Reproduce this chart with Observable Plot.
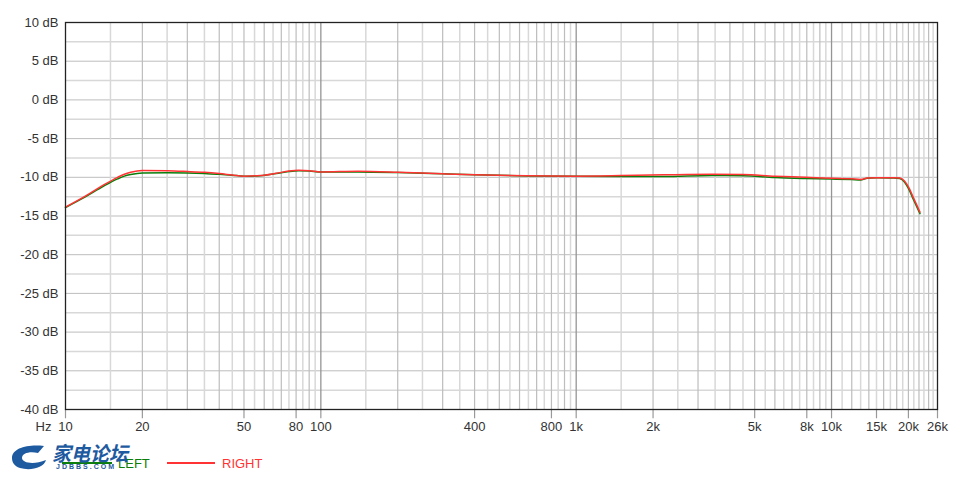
<!DOCTYPE html>
<html>
<head>
<meta charset="utf-8">
<script src="https://cdn.jsdelivr.net/npm/d3@7"></script>
<script src="https://cdn.jsdelivr.net/npm/@observablehq/plot@0.6"></script>
<style>
  html, body { margin: 0; padding: 0; background: #fff; }
  body { width: 960px; height: 480px; position: relative; overflow: hidden; font-family: "Liberation Sans", Arial, sans-serif; }
  #legend { position: absolute; left: 0; top: 436px; width: 960px; height: 44px; }
</style>
</head>
<body>
<div id="chart"></div>
<div id="legend"></div>
<script>
// Frequencies (Hz) sampled along the curves
const freqs = [10, 12, 14, 16, 17, 18, 20, 25, 30, 35, 40, 45, 50, 58, 67, 75, 82, 90, 100, 140, 200, 300, 400, 640, 1000, 1500, 2200, 3400, 4500, 6000, 7900, 10000, 12000, 13000, 13800, 15000, 17500, 18500, 19300, 20000, 21000, 22200];
// LEFT channel level (dB)
const leftDb = [-13.9, -12.5, -11.2, -10.2, -9.85, -9.65, -9.45, -9.42, -9.45, -9.52, -9.6, -9.72, -9.86, -9.8, -9.5, -9.25, -9.15, -9.2, -9.32, -9.3, -9.38, -9.55, -9.68, -9.82, -9.88, -9.9, -9.9, -9.77, -9.8, -10.03, -10.15, -10.22, -10.3, -10.35, -10.12, -10.07, -10.08, -10.15, -10.6, -11.45, -13.0, -14.7];
// RIGHT channel level (dB)
const rightDb = [-13.85, -12.4, -11.05, -10.0, -9.6, -9.35, -9.12, -9.15, -9.25, -9.36, -9.52, -9.7, -9.85, -9.78, -9.48, -9.2, -9.1, -9.15, -9.3, -9.22, -9.34, -9.55, -9.67, -9.8, -9.85, -9.78, -9.68, -9.6, -9.64, -9.86, -10.0, -10.13, -10.2, -10.27, -10.1, -10.05, -10.05, -10.1, -10.48, -11.25, -12.75, -14.5];

// Axis ticks
const xTicks = [10, 20, 50, 80, 100, 400, 800, 1000, 2000, 5000, 8000, 10000, 15000, 20000, 26000];
const xTickLabels = ["10", "20", "50", "80", "100", "400", "800", "1k", "2k", "5k", "8k", "10k", "15k", "20k", "26k"];
const yTicks = [-40, -35, -30, -25, -20, -15, -10, -5, 0, 5, 10];
const yMinor = [-37.5, -32.5, -27.5, -22.5, -17.5, -12.5, -7.5, -2.5, 2.5, 7.5];

// Vertical grid positions
const gridDecade = [100, 1000, 10000];
const gridMedium = [];
const gridLight = [];
for (const d of [10, 100, 1000]) {
  for (let k = 1; k < 10; k++) {
    const v = d * k;
    if (k > 1) gridMedium.push(v);
    gridLight.push(v + d / 2);
  }
}
for (let v = 11000; v <= 25000; v += 1000) {
  if (v % 2000 === 0) gridMedium.push(v); else gridLight.push(v);
}

const left = freqs.map((f, i) => ({f, db: leftDb[i]}));
const right = freqs.map((f, i) => ({f, db: rightDb[i]}));
const xLabelData = xTicks.map((t, i) => ({t, label: xTickLabels[i]}));

const plot = Plot.plot({
  width: 960,
  height: 445,
  marginLeft: 65,
  marginRight: 23,
  marginTop: 22,
  marginBottom: 36,
  style: {fontFamily: "'Liberation Sans', Arial, sans-serif", fontSize: "13px", color: "#333", background: "#fff"},
  x: {type: "log", domain: [10, 26000], axis: null},
  y: {domain: [-40, 10], axis: null},
  marks: [
    Plot.ruleY(yMinor, {stroke: "#d8d8d8", strokeWidth: 1.5}),
    Plot.ruleY(yTicks, {stroke: "#bdbdbd", strokeWidth: 1}),
    Plot.ruleX(gridLight, {stroke: "#d8d8d8", strokeWidth: 1.5}),
    Plot.ruleX(gridMedium, {stroke: "#bdbdbd", strokeWidth: 1.2}),
    Plot.ruleX(gridDecade, {stroke: "#959595", strokeWidth: 1.3}),
    Plot.ruleX(xTicks, {y1: -40, y2: -41.2, stroke: "#999", strokeWidth: 1.2}),
    Plot.text(xLabelData, {x: "t", text: "label", frameAnchor: "bottom", dy: 21, fill: "#333", fontSize: 13}),
    Plot.axisY({ticks: yTicks, tickFormat: d => `${d} dB`, tickSize: 0, tickPadding: 7, fill: "#333", fontSize: 13, label: null}),
    Plot.text(["Hz"], {frameAnchor: "bottom-left", dx: -14, dy: 21, textAnchor: "end", fill: "#333", fontSize: 13}),
    Plot.line(left, {x: "f", y: "db", stroke: "#0a7d0a", strokeWidth: 1.5, curve: "monotone-x"}),
    Plot.line(right, {x: "f", y: "db", stroke: "#ff3333", strokeWidth: 1.5, curve: "monotone-x"}),
    Plot.frame({stroke: "#222", strokeWidth: 1.3})
  ]
});
document.getElementById("chart").appendChild(plot);

// Legend (with the watermark logo seen over it)
document.getElementById("legend").innerHTML = `
<svg width="960" height="44" style="display:block">
  <line x1="62" x2="112" y1="27" y2="27" stroke="#0a7d0a" stroke-width="2"/>
  <text x="118" y="32" font-family="'Liberation Sans', Arial, sans-serif" font-size="13" fill="#0a7d0a">LEFT</text>
  <line x1="167" x2="215" y1="27" y2="27" stroke="#ff3333" stroke-width="2"/>
  <text x="222" y="32" font-family="'Liberation Sans', Arial, sans-serif" font-size="13" fill="#ff3333">RIGHT</text>
  <path d="M12,22 C12,12 28,8 44,10 L38,17 C30,15 22,17 22,22 C22,27 34,29 46,24 C44,32 30,35 20,32 C14,30 12,26 12,22 Z" fill="#1e5aa0"/>
  <text x="52" y="25" font-family="'Noto Sans CJK SC', sans-serif" font-size="20" font-weight="bold" font-style="italic" fill="#1e5aa0" textLength="76" lengthAdjust="spacingAndGlyphs">家电论坛</text>
  <text x="56" y="33" font-family="'Liberation Sans', Arial, sans-serif" font-size="7" font-weight="bold" fill="#1e5aa0" letter-spacing="2">JDBBS.COM</text>
</svg>`;
</script>
</body>
</html>
